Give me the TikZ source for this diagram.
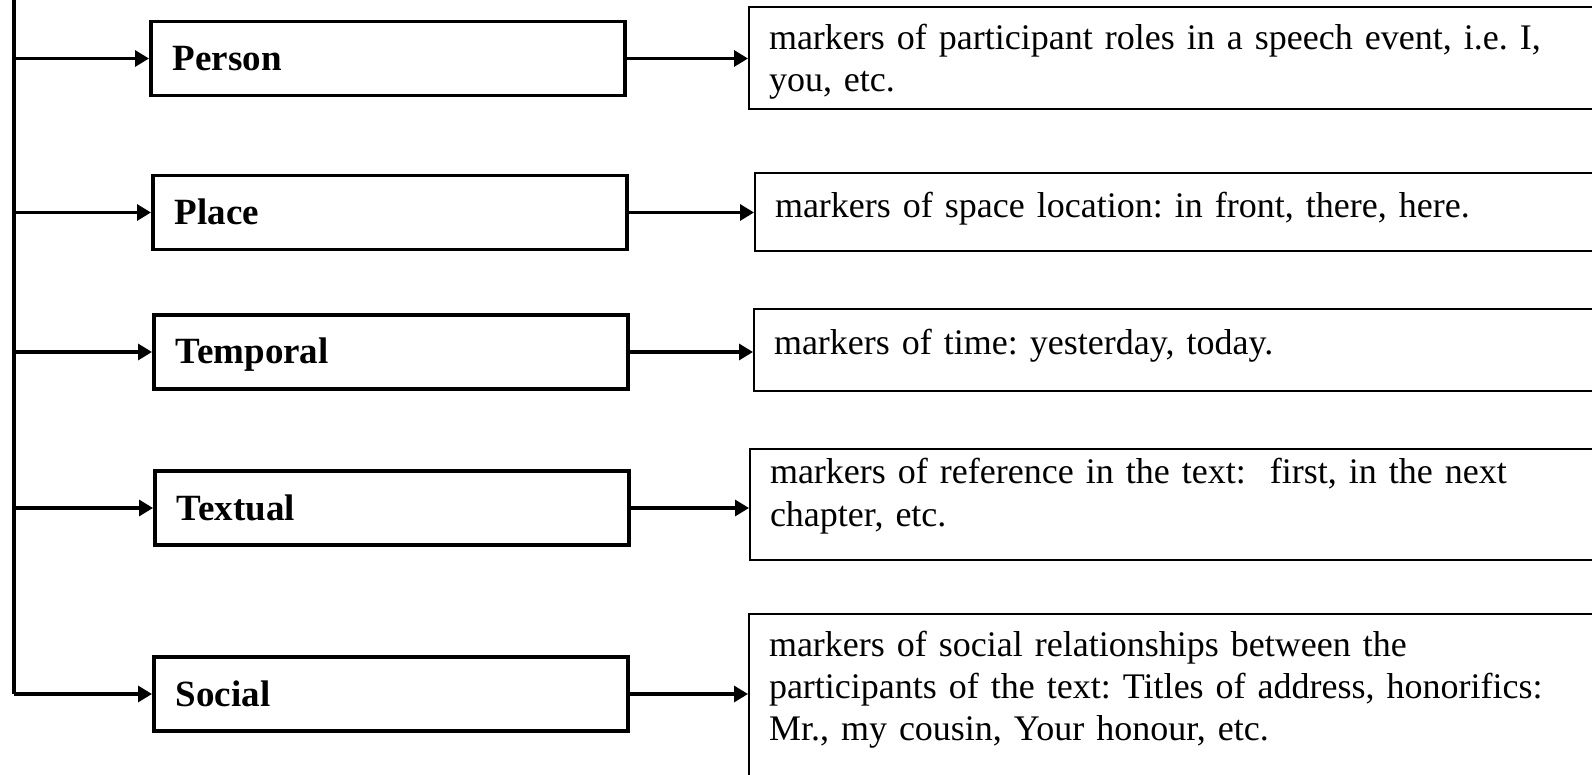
\documentclass[tikz,border=0pt]{standalone}
\usepackage{fontspec}
\setmainfont{Liberation Serif}
\usetikzlibrary{arrows.meta,positioning}
\begin{document}
\frenchspacing
\begin{tikzpicture}[x=0.5pt,y=-0.5pt,>={Triangle[length=7pt,width=8pt]},every node/.style={font=\fontsize{18}{21}\selectfont},
kind/.style={draw,line width=1.9pt,anchor=west,minimum height=37pt,text width=215pt,inner xsep=11pt,align=left,text height=12pt,text depth=0pt,font=\fontsize{18.5}{21}\selectfont\bfseries},
meaning/.style={draw,line width=1pt,anchor=north west,text width=420pt,inner xsep=10pt,inner ysep=0pt,align=left},
link/.style={->,line width=1.6pt}]
\useasboundingbox (0,0) rectangle (1592,775);\clip (0,0) rectangle (1592,775);
\node[kind] (person) at (149,58.5) {Person};
\node[kind] (place) at (151,212.5) {Place};
\node[kind] (temporal) at (152,352) {Temporal};
\node[kind] (textual) at (153,508) {Textual};
\node[kind] (social) at (152,694) {Social};
\node[meaning,text height=21.5pt,text depth=29.5pt] (persondesc) at (748,6) {markers of participant roles in a speech event, i.e. I,\\ you, etc.};
\node[meaning,text height=22.5pt,text depth=16.5pt] (placedesc) at (754,172) {markers of space location: in front, there, here.};
\node[meaning,text height=23pt,text depth=18pt] (tempdesc) at (753,308) {markers of time: yesterday, today.};
\node[meaning,text height=17.5pt,text depth=38pt] (textdesc) at (749,448) {markers of reference in the text:\ \ first, in the next\\ chapter, etc.};
\node[meaning,text height=21pt,text depth=72pt] (socdesc) at (748,613) {markers of social relationships between the\\ participants of the text: Titles of address, honorifics:\\ Mr., my cousin, Your honour, etc.};
\coordinate (top) at (14,-5);
\draw[line width=2pt] (top) -- (top|-social.west);
\foreach \k/\d in {person/persondesc,place/placedesc,temporal/tempdesc,textual/textdesc,social/socdesc}{\draw[link] (top|-\k.west) -- (\k.west);\draw[link] (\k.east) -- (\k.east-|\d.west);}
\end{tikzpicture}
\end{document}
